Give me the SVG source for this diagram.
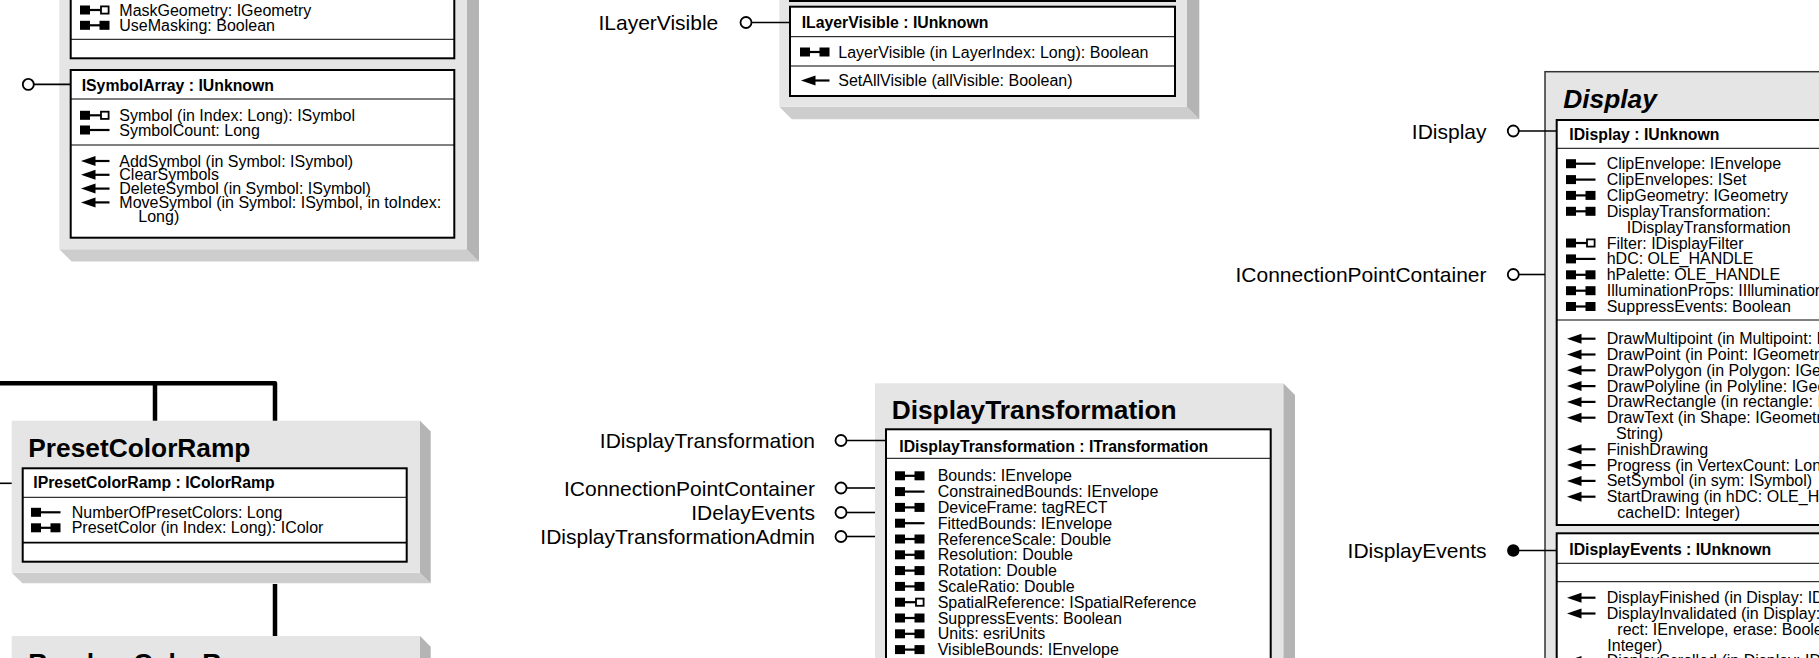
<svg xmlns="http://www.w3.org/2000/svg" width="1819" height="658" viewBox="0 0 1819 658">
<style>
.bg{fill:#ffffff}
.panel{fill:#e5e5e5}
.panel-abs{fill:#e5e5e5;stroke:#333;stroke-width:1.5}
.shr{fill:#b4b4b4}
.shb{fill:#cdcdcd}
.box{fill:#ffffff;stroke:#000;stroke-width:2}
.sep{stroke:#000;stroke-width:1}
.sep2{stroke:#000;stroke-width:1.8}
text{font-family:"Liberation Sans",Arial,Helvetica,sans-serif;fill:#000}
.t{font-size:16px}
.h{font-size:15.8px;font-weight:bold}
.title{font-size:26.3px;font-weight:bold}
.ititle{font-size:26.3px;font-weight:bold;font-style:italic}
.lbl{font-size:21px;text-anchor:end}
.conn{stroke:#000;stroke-width:4.5;fill:none;stroke-linejoin:round}
.lp{stroke:#000;stroke-width:1.6;fill:none}
.circ{fill:#fff;stroke:#000;stroke-width:1.8}
.dot{fill:#000}
.ic{fill:#000}
.icl{stroke:#000;stroke-width:2.2}
.ico{fill:#fff;stroke:#000;stroke-width:1.8}
</style>
<defs>
<g id="rw"><rect class="ic" x="0" y="-4.5" width="10" height="9"/><line class="icl" x1="9" y1="0" x2="20" y2="0"/><rect class="ic" x="19.5" y="-4.5" width="10" height="9"/></g>
<g id="ro"><rect class="ic" x="0" y="-4.5" width="10" height="9"/><line class="icl" x1="9" y1="0" x2="29.5" y2="0"/></g>
<g id="wr"><rect class="ic" x="0" y="-4.5" width="10" height="9"/><line class="icl" x1="9" y1="0" x2="21" y2="0"/><rect class="ico" x="21" y="-3.6" width="7.6" height="7.2"/></g>
<g id="mt"><polygon class="ic" points="1,0 15.5,-5 15.5,5"/><line class="icl" x1="14" y1="0" x2="29.5" y2="0"/></g>
</defs>
<rect class="bg" x="0" y="0" width="1819" height="658"/>

<g id="connectors">
<path class="conn" d="M -5 383.3 H 275 V 421"/>
<line class="conn" x1="155" y1="383.3" x2="155" y2="421"/>
<line class="conn" x1="275" y1="584" x2="275" y2="636"/>
<line class="lp" x1="-5" y1="483.3" x2="22.7" y2="483.3"/>
</g>

<g id="cls-topleft">
<polygon class="shb" points="59.3,249.3 466.7,249.3 479,261.6 71.6,261.6"/>
<polygon class="shr" points="466.7,-20 479,-20 479,261.6 466.7,249.3"/>
<rect class="panel" x="59.3" y="-20" width="407.4" height="269.3"/>
<rect class="box" x="70.7" y="-20" width="383.6" height="78.3"/>
<line class="sep" x1="70.7" y1="39.3" x2="454.3" y2="39.3"/>
<use href="#wr" x="80" y="10"/><text class="t" x="119.3" y="15.5">MaskGeometry: IGeometry</text>
<use href="#rw" x="80" y="25.3"/><text class="t" x="119.3" y="30.8">UseMasking: Boolean</text>
<g id="if-isymbolarray">
<line class="lp" x1="33.8" y1="84.4" x2="70.7" y2="84.4"/>
<circle class="circ" cx="28.3" cy="84.4" r="5.5"/>
<rect class="box" x="70.7" y="70" width="383.6" height="167.7"/>
<line class="sep" x1="70.7" y1="99" x2="454.3" y2="99"/>
<line class="sep" x1="70.7" y1="145" x2="454.3" y2="145"/>
<text class="h" x="81.7" y="90.7">ISymbolArray : IUnknown</text>
<use href="#wr" x="80" y="115.3"/><text class="t" x="119.3" y="120.8">Symbol (in Index: Long): ISymbol</text>
<use href="#ro" x="80" y="130"/><text class="t" x="119.3" y="135.5">SymbolCount: Long</text>
<use href="#mt" x="80" y="161"/><text class="t" x="119.3" y="166.5">AddSymbol (in Symbol: ISymbol)</text>
<use href="#mt" x="80" y="174.8"/><text class="t" x="119.3" y="180.3">ClearSymbols</text>
<use href="#mt" x="80" y="188.6"/><text class="t" x="119.3" y="194.1">DeleteSymbol (in Symbol: ISymbol)</text>
<use href="#mt" x="80" y="202.4"/><text class="t" x="119.3" y="207.9">MoveSymbol (in Symbol: ISymbol, in toIndex:</text>
<text class="t" x="138.3" y="221.7">Long)</text>
</g>
</g>

<g id="cls-layervisible">
<polygon class="shb" points="779.3,106.7 1186.7,106.7 1199.3,119.3 791.9,119.3"/>
<polygon class="shr" points="1186.7,-20 1199.3,-20 1199.3,119.3 1186.7,106.7"/>
<rect class="panel" x="779.3" y="-20" width="407.4" height="126.7"/>
<rect class="box" x="790" y="-30" width="385" height="31"/>
<g id="if-ilayervisible">
<text class="lbl t" x="718.3" y="30.3" style="font-size:21px">ILayerVisible</text>
<line class="lp" x1="751.5" y1="22.5" x2="790" y2="22.5"/>
<circle class="circ" cx="746" cy="22.5" r="5.5"/>
<rect class="box" x="790" y="6.7" width="385" height="89.3"/>
<line class="sep" x1="790" y1="36.7" x2="1175" y2="36.7"/>
<line class="sep" x1="790" y1="66" x2="1175" y2="66"/>
<text class="h" x="801.7" y="27.5">ILayerVisible : IUnknown</text>
<use href="#rw" x="800" y="52"/><text class="t" x="838.3" y="57.5">LayerVisible (in LayerIndex: Long): Boolean</text>
<use href="#mt" x="800" y="80.5"/><text class="t" x="838.3" y="86">SetAllVisible (allVisible: Boolean)</text>
</g>
</g>

<g id="cls-presetcolorramp">
<polygon class="shb" points="11.7,572.7 420,572.7 430.7,583.3 22.4,583.3"/>
<polygon class="shr" points="420,420.7 430.7,431.4 430.7,583.3 420,572.7"/>
<rect class="panel" x="11.7" y="420.7" width="408.3" height="152"/>
<text class="title" x="28.3" y="456.7">PresetColorRamp</text>
<rect class="box" x="22.7" y="468.3" width="384" height="93.4"/>
<line class="sep" x1="22.7" y1="497.3" x2="406.7" y2="497.3"/>
<line class="sep2" x1="22.7" y1="542.7" x2="406.7" y2="542.7"/>
<text class="h" x="33.3" y="488">IPresetColorRamp : IColorRamp</text>
<use href="#ro" x="31" y="512.3"/><text class="t" x="71.7" y="517.8">NumberOfPresetColors: Long</text>
<use href="#rw" x="31" y="527.8"/><text class="t" x="71.7" y="533.3">PresetColor (in Index: Long): IColor</text>
</g>

<g id="cls-randomcolorramp">
<polygon class="shr" points="420,636 430.7,646.7 430.7,680 420,680"/>
<rect class="panel" x="11.7" y="636" width="408.3" height="50"/>
<text class="title" x="28.3" y="672">RandomColorRamp</text>
</g>

<g id="cls-displaytransformation">
<polygon class="shr" points="1283.3,383.3 1295,395 1295,690 1283.3,690"/>
<rect class="panel" x="875" y="383.3" width="408.3" height="310"/>
<text class="title" x="891.7" y="419.3">DisplayTransformation</text>
<g id="if-idisplaytransformation">
<text class="lbl t" x="815" y="448" style="font-size:21px">IDisplayTransformation</text>
<line class="lp" x1="846.5" y1="440.5" x2="886" y2="440.5"/>
<circle class="circ" cx="841" cy="440.5" r="5.5"/>
<rect class="box" x="886" y="429.3" width="384.7" height="270"/>
<line class="sep" x1="886" y1="458.3" x2="1270.7" y2="458.3"/>
<text class="h" x="899.3" y="451.5">IDisplayTransformation : ITransformation</text>
<use href="#rw" x="895" y="475.8"/><text class="t" x="937.7" y="481.3">Bounds: IEnvelope</text>
<use href="#ro" x="895" y="491.6"/><text class="t" x="937.7" y="497.1">ConstrainedBounds: IEnvelope</text>
<use href="#rw" x="895" y="507.4"/><text class="t" x="937.7" y="512.9">DeviceFrame: tagRECT</text>
<use href="#ro" x="895" y="523.2"/><text class="t" x="937.7" y="528.7">FittedBounds: IEnvelope</text>
<use href="#rw" x="895" y="539"/><text class="t" x="937.7" y="544.5">ReferenceScale: Double</text>
<use href="#rw" x="895" y="554.8"/><text class="t" x="937.7" y="560.3">Resolution: Double</text>
<use href="#rw" x="895" y="570.6"/><text class="t" x="937.7" y="576.1">Rotation: Double</text>
<use href="#rw" x="895" y="586.4"/><text class="t" x="937.7" y="591.9">ScaleRatio: Double</text>
<use href="#wr" x="895" y="602.2"/><text class="t" x="937.7" y="607.7">SpatialReference: ISpatialReference</text>
<use href="#rw" x="895" y="618"/><text class="t" x="937.7" y="623.5">SuppressEvents: Boolean</text>
<use href="#rw" x="895" y="633.8"/><text class="t" x="937.7" y="639.3">Units: esriUnits</text>
<use href="#rw" x="895" y="649.6"/><text class="t" x="937.7" y="655.1">VisibleBounds: IEnvelope</text>
</g>
<g id="if-dt-icpc">
<text class="lbl t" x="815" y="495.5" style="font-size:21px">IConnectionPointContainer</text>
<line class="lp" x1="846.5" y1="488" x2="875" y2="488"/>
<circle class="circ" cx="841" cy="488" r="5.5"/>
</g>
<g id="if-dt-idelayevents">
<text class="lbl t" x="815" y="520" style="font-size:21px">IDelayEvents</text>
<line class="lp" x1="846.5" y1="512.5" x2="875" y2="512.5"/>
<circle class="circ" cx="841" cy="512.5" r="5.5"/>
</g>
<g id="if-dt-admin">
<text class="lbl t" x="815" y="544" style="font-size:21px">IDisplayTransformationAdmin</text>
<line class="lp" x1="846.5" y1="536.5" x2="875" y2="536.5"/>
<circle class="circ" cx="841" cy="536.5" r="5.5"/>
</g>
</g>

<g id="cls-display">
<rect class="panel-abs" x="1545" y="71.7" width="320" height="640"/>
<text class="ititle" x="1563.3" y="107.7">Display</text>
<g id="if-idisplay">
<text class="lbl t" x="1486.5" y="138.5" style="font-size:21px">IDisplay</text>
<line class="lp" x1="1518.8" y1="131" x2="1556.7" y2="131"/>
<circle class="circ" cx="1513.3" cy="131" r="5.5"/>
<rect class="box" x="1556.7" y="120" width="320" height="405"/>
<line class="sep" x1="1556.7" y1="148.3" x2="1830" y2="148.3"/>
<line class="sep" x1="1556.7" y1="320" x2="1830" y2="320"/>
<text class="h" x="1569.3" y="140">IDisplay : IUnknown</text>
<use href="#ro" x="1566" y="163.7"/><text class="t" x="1606.7" y="169.2">ClipEnvelope: IEnvelope</text>
<use href="#ro" x="1566" y="179.6"/><text class="t" x="1606.7" y="185.1">ClipEnvelopes: ISet</text>
<use href="#rw" x="1566" y="195.4"/><text class="t" x="1606.7" y="200.9">ClipGeometry: IGeometry</text>
<use href="#rw" x="1566" y="211.3"/><text class="t" x="1606.7" y="216.8">DisplayTransformation:</text>
<text class="t" x="1626.7" y="232.7">IDisplayTransformation</text>
<use href="#wr" x="1566" y="243"/><text class="t" x="1606.7" y="248.5">Filter: IDisplayFilter</text>
<use href="#ro" x="1566" y="258.9"/><text class="t" x="1606.7" y="264.4">hDC: OLE_HANDLE</text>
<use href="#rw" x="1566" y="274.8"/><text class="t" x="1606.7" y="280.3">hPalette: OLE_HANDLE</text>
<use href="#rw" x="1566" y="290.7"/><text class="t" x="1606.7" y="296.2">IlluminationProps: IIlluminationProps</text>
<use href="#rw" x="1566" y="306.5"/><text class="t" x="1606.7" y="312">SuppressEvents: Boolean</text>
<use href="#mt" x="1566" y="338.7"/><text class="t" x="1606.7" y="344.2">DrawMultipoint (in Multipoint: IGeometry)</text>
<use href="#mt" x="1566" y="354.5"/><text class="t" x="1606.7" y="360">DrawPoint (in Point: IGeometry)</text>
<use href="#mt" x="1566" y="370.3"/><text class="t" x="1606.7" y="375.8">DrawPolygon (in Polygon: IGeometry)</text>
<use href="#mt" x="1566" y="386.1"/><text class="t" x="1606.7" y="391.6">DrawPolyline (in Polyline: IGeometry)</text>
<use href="#mt" x="1566" y="401.9"/><text class="t" x="1606.7" y="407.4">DrawRectangle (in rectangle: IEnvelope)</text>
<use href="#mt" x="1566" y="417.7"/><text class="t" x="1606.7" y="423.2">DrawText (in Shape: IGeometry, in Text:</text>
<text class="t" x="1616" y="439">String)</text>
<use href="#mt" x="1566" y="449.3"/><text class="t" x="1606.7" y="454.8">FinishDrawing</text>
<use href="#mt" x="1566" y="465.1"/><text class="t" x="1606.7" y="470.6">Progress (in VertexCount: Long)</text>
<use href="#mt" x="1566" y="480.9"/><text class="t" x="1606.7" y="486.4">SetSymbol (in sym: ISymbol)</text>
<use href="#mt" x="1566" y="496.7"/><text class="t" x="1606.7" y="502.2">StartDrawing (in hDC: OLE_HANDLE, in</text>
<text class="t" x="1617.3" y="518">cacheID: Integer)</text>
</g>
<g id="if-display-icpc">
<text class="lbl t" x="1486.5" y="282" style="font-size:21px">IConnectionPointContainer</text>
<line class="lp" x1="1518.8" y1="274.5" x2="1545" y2="274.5"/>
<circle class="circ" cx="1513.3" cy="274.5" r="5.5"/>
</g>
<g id="if-idisplayevents">
<text class="lbl t" x="1486.5" y="557.5" style="font-size:21px">IDisplayEvents</text>
<line class="lp" x1="1513.3" y1="550.5" x2="1556.7" y2="550.5"/>
<circle class="dot" cx="1513.3" cy="550.5" r="6.2"/>
<rect class="box" x="1556.7" y="533.3" width="320" height="200"/>
<line class="sep" x1="1556.7" y1="563.3" x2="1830" y2="563.3"/>
<line class="sep" x1="1556.7" y1="581.7" x2="1830" y2="581.7"/>
<text class="h" x="1569.3" y="554.5">IDisplayEvents : IUnknown</text>
<use href="#mt" x="1566" y="597.7"/><text class="t" x="1606.7" y="603.2">DisplayFinished (in Display: IDisplay)</text>
<use href="#mt" x="1566" y="613.5"/><text class="t" x="1606.7" y="619">DisplayInvalidated (in Display: IDisplay, in</text>
<text class="t" x="1617.3" y="634.8">rect: IEnvelope, erase: Boolean, in cacheID:</text>
<text class="t" x="1607.3" y="650.6">Integer)</text>
<use href="#mt" x="1566" y="660.9"/><text class="t" x="1606.7" y="666.4">DisplayScrolled (in Display: IDisplay)</text>
</g>
</g>
</svg>
